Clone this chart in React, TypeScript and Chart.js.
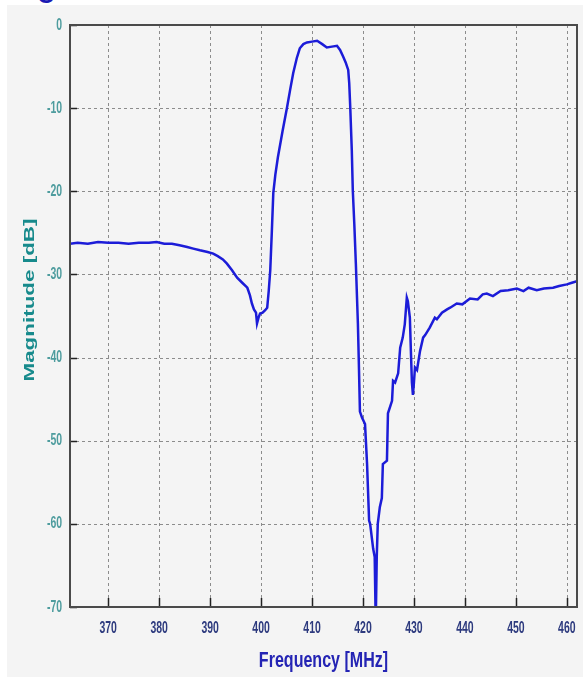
import React, { useEffect, useRef } from "react";
import { Chart, registerables } from "chart.js";

Chart.register(...registerables);

const freqMHz = [
  362.5, 364, 366, 368, 370, 372, 374, 376, 378, 379.5, 381, 382.5, 384, 385.5, 386.7, 388, 389.5, 390.6, 391.5, 392.5,
  393.3, 394.3, 395.3, 396.3, 397.3, 397.8, 398.2, 398.6, 399.0, 399.2, 399.5, 399.8, 400.3, 400.8, 401.2, 401.5, 401.8,
  402.1, 402.4, 402.8, 403.3, 404.2, 405.1, 405.7, 406.3, 407.0, 407.6, 408.3, 409.0, 410.0, 411.0, 412.0, 412.9, 413.9,
  414.9, 415.5, 416.1, 416.6, 417.1, 417.3, 417.5, 417.8, 418.0, 418.3, 418.6, 419.0, 419.2, 419.4, 419.8, 420.4, 420.8,
  421.2, 421.4, 422.0, 422.3, 422.5, 422.7, 422.9, 423.3, 423.7, 423.9, 424.7, 424.9, 425.7, 425.9, 426.3, 426.9, 427.3,
  427.8, 428.2, 428.6, 428.8, 429.2, 429.4, 429.6, 429.8, 430.0, 430.2, 430.6, 431.2, 431.8, 432.2, 433.1, 434.1, 434.5,
  435.5, 436.5, 437.1, 438.4, 439.5, 441.0, 442.5, 443.5, 444.3, 445.5, 447.0, 448.5, 450.2, 451.5, 452.5, 454.1, 455.5,
  457.3, 458.5, 460.0, 461.0, 462.0,
];

const magnitudeDb = [
  -26.3, -26.2, -26.3, -26.1, -26.2, -26.2, -26.3, -26.2, -26.2, -26.1, -26.3, -26.3, -26.5, -26.7, -26.9, -27.1, -27.3,
  -27.5, -27.8, -28.2, -28.7, -29.5, -30.4, -31.0, -31.6, -32.5, -33.5, -34.2, -34.6, -35.9, -35.2, -34.7, -34.6, -34.3,
  -34.0, -32.0, -29.5, -25.0, -20.2, -18.0, -15.9, -12.8, -9.9, -7.8, -5.8, -4.0, -2.8, -2.3, -2.1, -2.0, -1.9, -2.3,
  -2.7, -2.6, -2.5, -3.0, -3.8, -4.5, -5.4, -7.0, -9.9, -15.0, -19.9, -24.0, -28.7, -35.9, -41.0, -46.5, -47.2, -48.0,
  -52.8, -59.6, -60.0, -63.0, -64.0, -72.0, -64.0, -60.0, -58.0, -56.9, -52.8, -52.4, -46.7, -45.2, -42.8, -43.0, -41.9,
  -38.8, -37.6, -36.0, -32.8, -33.2, -35.2, -39.2, -43.0, -44.5, -43.0, -41.2, -41.5, -39.2, -37.6, -37.3, -36.4, -35.2,
  -35.4, -34.6, -34.2, -34.0, -33.5, -33.6, -32.9, -33.0, -32.4, -32.3, -32.6, -32.0, -31.9, -31.7, -32.0, -31.6, -31.9,
  -31.7, -31.6, -31.4, -31.2, -31.0, -30.8,
];

const xTickValues = [370, 380, 390, 400, 410, 420, 430, 440, 450, 460];
const yTickValues = [0, -10, -20, -30, -40, -50, -60, -70];
const xRange = [362.5, 462];
const yRange = [-70, 0];
const xTitle = "Frequency [MHz]";
const yTitle = "Magnitude [dB]";

const FONT = "'Liberation Sans', Arial, sans-serif";

const framePlugin = {
  id: "frame",
  beforeDatasetsDraw(chart: any) {
    const { ctx, chartArea: a, scales } = chart;
    const x = scales.x;
    const y = scales.y;
    ctx.save();
    ctx.strokeStyle = "#8c8c8c";
    ctx.lineWidth = 1;
    ctx.setLineDash([3, 3]);
    xTickValues.forEach((v) => {
      const px = Math.round(x.getPixelForValue(v)) + 0.5;
      ctx.beginPath();
      ctx.moveTo(px, a.top);
      ctx.lineTo(px, a.bottom);
      ctx.stroke();
    });
    yTickValues.forEach((v) => {
      if (v === yRange[0] || v === yRange[1]) return;
      const py = Math.round(y.getPixelForValue(v)) + 0.5;
      ctx.beginPath();
      ctx.moveTo(a.left, py);
      ctx.lineTo(a.right, py);
      ctx.stroke();
    });
    ctx.restore();
  },
  afterDatasetsDraw(chart: any) {
    const { ctx, chartArea: a, scales } = chart;
    const x = scales.x;
    const y = scales.y;
    ctx.save();
    ctx.setLineDash([]);
    ctx.strokeStyle = "#222";
    ctx.lineWidth = 1.5;
    xTickValues.forEach((v) => {
      const px = Math.round(x.getPixelForValue(v)) + 0.5;
      ctx.beginPath();
      ctx.moveTo(px, a.bottom);
      ctx.lineTo(px, a.bottom - 9);
      ctx.stroke();
    });
    yTickValues.forEach((v) => {
      const py = Math.round(y.getPixelForValue(v)) + 0.5;
      ctx.beginPath();
      ctx.moveTo(a.left, py);
      ctx.lineTo(a.left + 7, py);
      ctx.stroke();
    });
    ctx.strokeStyle = "#4a4a4a";
    ctx.lineWidth = 2;
    ctx.strokeRect(a.left, a.top, a.right - a.left, a.bottom - a.top);

    ctx.font = `bold 11px ${FONT}`;
    ctx.fillStyle = "#2d3a7e";
    ctx.textAlign = "center";
    ctx.textBaseline = "middle";
    xTickValues.forEach((v) => {
      const px = x.getPixelForValue(v);
      ctx.save();
      ctx.translate(px, a.bottom + 21);
      ctx.scale(0.95, 1.5);
      ctx.fillText(String(v), 0, 0);
      ctx.restore();
    });
    ctx.fillStyle = "#4e9c9e";
    ctx.textAlign = "right";
    yTickValues.forEach((v) => {
      const py = y.getPixelForValue(v);
      ctx.save();
      ctx.translate(a.left - 8, py);
      ctx.scale(0.95, 1.5);
      ctx.fillText(String(v), 0, 0);
      ctx.restore();
    });

    ctx.font = `bold 15px ${FONT}`;
    ctx.fillStyle = "#2424b4";
    ctx.textAlign = "center";
    ctx.save();
    ctx.translate((a.left + a.right) / 2, a.bottom + 54);
    ctx.scale(1.07, 1.45);
    ctx.fillText(xTitle, 0, 0);
    ctx.restore();

    ctx.fillStyle = "#178a8c";
    ctx.save();
    ctx.translate(30, 300);
    ctx.rotate(-Math.PI / 2);
    ctx.scale(1.6, 1.0);
    ctx.font = `bold 14px ${FONT}`;
    ctx.fillText(yTitle, 0, 0);
    ctx.restore();
    ctx.restore();
  },
};

export default function App() {
  const ref = useRef<HTMLCanvasElement | null>(null);

  useEffect(() => {
    if (!ref.current) return;
    const points = freqMHz.map((f, i) => ({ x: f, y: magnitudeDb[i] }));
    const chart = new Chart(ref.current, {
      type: "line",
      data: {
        datasets: [
          {
            data: points,
            borderColor: "#1c1cd8",
            borderWidth: 2.5,
            pointRadius: 0,
            tension: 0,
            fill: false,
          },
        ],
      },
      options: {
        animation: false,
        responsive: true,
        maintainAspectRatio: false,
        layout: { padding: { left: 0, top: 25, right: 10, bottom: 0 } },
        plugins: { legend: { display: false }, tooltip: { enabled: false }, title: { display: false } },
        scales: {
          x: {
            type: "linear",
            min: xRange[0],
            max: xRange[1],
            grid: { display: false },
            border: { display: false },
            ticks: { display: false },
            afterFit: (s: any) => {
              s.height = 70;
            },
          },
          y: {
            type: "linear",
            min: yRange[0],
            max: yRange[1],
            grid: { display: false },
            border: { display: false },
            ticks: { display: false },
            afterFit: (s: any) => {
              s.width = 70;
            },
          },
        },
      },
      plugins: [framePlugin],
    });
    return () => chart.destroy();
  }, []);

  return (
    <div
      style={{
        position: "fixed",
        left: 0,
        top: 0,
        width: 587,
        height: 677,
        background: "#ffffff",
        overflow: "hidden",
      }}
    >
      <div
        style={{ position: "absolute", left: 7, top: 5, width: 576, height: 672, background: "#f4f4f4" }}
      />
      <span
        style={{
          position: "absolute",
          left: 37,
          top: -19,
          fontFamily: FONT,
          fontWeight: "bold",
          fontSize: 24,
          color: "#1a1ab4",
        }}
      >
        C
      </span>
      <div style={{ position: "absolute", left: 0, top: 0, width: 587, height: 677 }}>
        <canvas ref={ref} />
      </div>
    </div>
  );
}
